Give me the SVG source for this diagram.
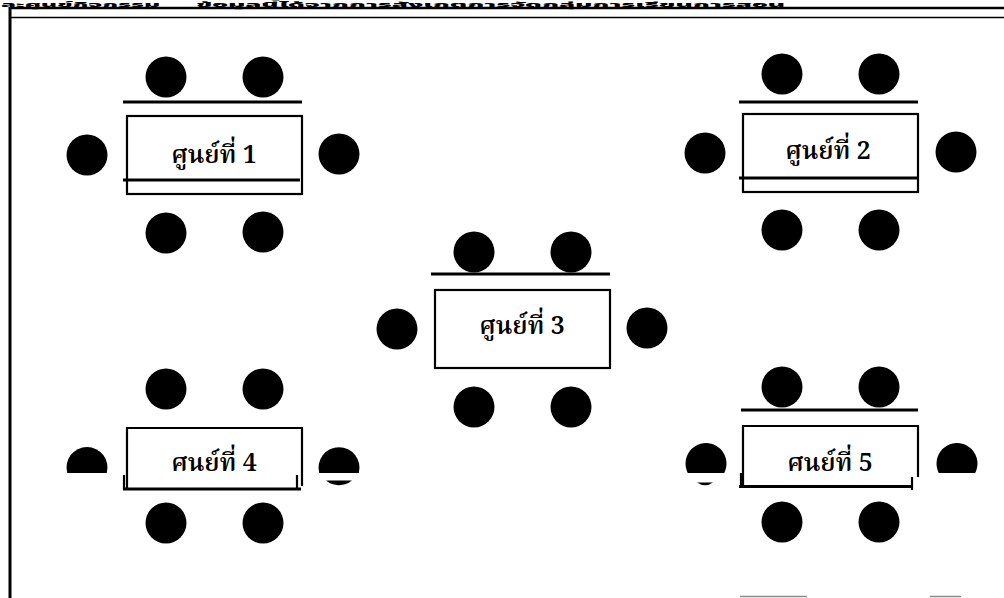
<svg xmlns="http://www.w3.org/2000/svg" width="1004" height="598" viewBox="0 0 1004 598">
<style>
.chair{fill:#000}
.tbl{fill:#fff;stroke:#000;stroke-width:2.2}
.bar{stroke:#000;stroke-width:3;fill:none}
.edge{stroke:#000;stroke-width:2.2;fill:none}
.lbl{font-family:"Noto Serif Thai","Noto Sans Thai","Liberation Serif","DejaVu Serif",serif;font-size:25px;font-weight:600;fill:#000;text-anchor:middle}
.hdr{font-family:"Noto Sans Thai","Liberation Sans","DejaVu Sans",sans-serif;font-size:7.5px;font-weight:900;fill:#000}
.frame{stroke:#000;fill:none}
.scan{stroke:#8a8a8a;stroke-width:1.5}
</style>
<rect width="1004" height="598" fill="#fff"/>
<g id="header">
<text class="hdr" x="1" y="6.5" textLength="159" lengthAdjust="spacingAndGlyphs">ละศูนย์กิจกรรม</text>
<text class="hdr" x="196" y="6.5" textLength="589" lengthAdjust="spacingAndGlyphs">ข้อมูลนี้ได้จากการสังเกตการจัดกลุ่มการเรียนการสอน</text>
<line class="frame" x1="9" y1="8" x2="1004" y2="8" stroke-width="2.6"/>
<line class="frame" x1="9" y1="17.5" x2="1004" y2="17.5" stroke-width="1.6"/>
<line class="frame" x1="10" y1="7" x2="10" y2="598" stroke-width="3"/>
<line class="scan" x1="740" y1="596.5" x2="807" y2="596.5"/>
<line class="scan" x1="930" y1="596.5" x2="961" y2="596.5"/>
</g>
<g id="connectors"></g>
<g id="center1">
<circle class="chair" cx="166" cy="77" r="20.5"/>
<circle class="chair" cx="263" cy="77" r="20.5"/>
<line class="bar" x1="123" y1="102" x2="302" y2="102"/>
<rect class="tbl" x="127" y="116" width="175" height="78"/>
<line class="bar" x1="123" y1="180" x2="300" y2="180"/>
<circle class="chair" cx="87" cy="155" r="20.5"/>
<circle class="chair" cx="339" cy="154" r="20.5"/>
<circle class="chair" cx="166" cy="233" r="20.5"/>
<circle class="chair" cx="263" cy="232" r="20.5"/>
<text class="lbl" x="214" y="163">ศูนย์ที่ 1</text>
</g>
<g id="center2">
<circle class="chair" cx="782" cy="74" r="20.5"/>
<circle class="chair" cx="879" cy="74" r="20.5"/>
<line class="bar" x1="739" y1="102" x2="918" y2="102"/>
<rect class="tbl" x="743" y="114" width="175" height="78"/>
<line class="bar" x1="739" y1="178" x2="918" y2="178"/>
<circle class="chair" cx="705" cy="153" r="20.5"/>
<circle class="chair" cx="956" cy="152" r="20.5"/>
<circle class="chair" cx="782" cy="230" r="20.5"/>
<circle class="chair" cx="879" cy="230" r="20.5"/>
<text class="lbl" x="828" y="159">ศูนย์ที่ 2</text>
</g>
<g id="center3">
<circle class="chair" cx="474" cy="252" r="20.5"/>
<circle class="chair" cx="571" cy="252" r="20.5"/>
<line class="bar" x1="431" y1="274" x2="610" y2="274"/>
<rect class="tbl" x="435" y="290" width="175" height="78"/>
<circle class="chair" cx="397" cy="329" r="20.5"/>
<circle class="chair" cx="647" cy="328" r="20.5"/>
<circle class="chair" cx="474" cy="407" r="20.5"/>
<circle class="chair" cx="571" cy="407" r="20.5"/>
<text class="lbl" x="522" y="334">ศูนย์ที่ 3</text>
</g>
<g id="center4">
<circle class="chair" cx="166" cy="389" r="20.5"/>
<circle class="chair" cx="263" cy="389" r="20.5"/>
<path class="edge" d="M127 489 V428 H302 V486"/>
<line class="bar" x1="123" y1="489" x2="301" y2="489"/>
<line class="edge" x1="124" y1="475" x2="124" y2="490"/>
<line class="edge" x1="297" y1="475" x2="297" y2="490"/>
<path class="chair" d="M67.25 473 A20.5 20.5 0 1 1 106.75 473 Z"/>
<path class="chair" d="M319.2 473 A20.5 20.5 0 1 1 358.8 473 Z"/>
<path class="chair" d="M326 480.5 A20.5 20.5 0 0 0 352 480.5 Z"/>
<circle class="chair" cx="166" cy="523" r="20.5"/>
<circle class="chair" cx="263" cy="523" r="20.5"/>
<text class="lbl" x="214" y="471">ศนย์ที่ 4</text>
</g>
<g id="center5">
<circle class="chair" cx="782" cy="387" r="20.5"/>
<circle class="chair" cx="879" cy="387" r="20.5"/>
<line class="bar" x1="741" y1="410" x2="918" y2="410"/>
<path class="edge" d="M743 486 V426 H918 V477"/>
<line class="bar" x1="739" y1="486.5" x2="912" y2="486.5"/>
<line class="edge" x1="741" y1="473" x2="741" y2="486"/>
<line class="edge" x1="912" y1="477" x2="912" y2="490"/>
<path class="chair" d="M687.8 473 A20.5 20.5 0 1 1 724.2 473 Z"/>
<path class="chair" d="M697 482.5 Q705 488 713 482.5 Z"/>
<path class="chair" d="M938.8 473 A20.5 20.5 0 1 1 975.2 473 Z"/>
<circle class="chair" cx="782" cy="522" r="20.5"/>
<circle class="chair" cx="879" cy="522" r="20.5"/>
<text class="lbl" x="830" y="471">ศนย์ที่ 5</text>
</g>
</svg>
